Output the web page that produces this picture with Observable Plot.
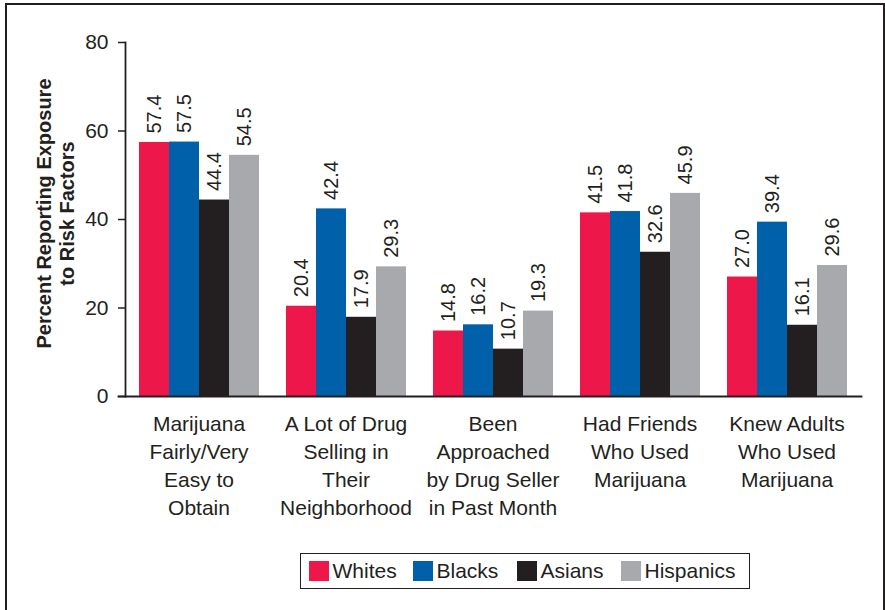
<!DOCTYPE html>
<html>
<head>
<meta charset="utf-8">
<script src="https://cdn.jsdelivr.net/npm/d3@7"></script>
<script src="https://cdn.jsdelivr.net/npm/@observablehq/plot@0.6"></script>
<style>
  html, body { margin: 0; padding: 0; background: #fff; }
  body { width: 885px; height: 610px; position: relative; overflow: hidden; font-family: "Liberation Sans", Arial, Helvetica, sans-serif; }
  #frame { position: absolute; left: 5px; top: 3px; width: 876px; height: 640px; border: 2px solid #231f20; border-bottom: none; }
  #chart { position: absolute; left: 0; top: 0; }
  #legend { position: absolute; left: 300px; top: 553px; width: 448px; height: 34px; border: 1.5px solid #231f20; display: flex; align-items: center; box-sizing: content-box; padding-left: 0; }
  .item { display: flex; align-items: center; width: 104px; font-size: 21px; color: #231f20; white-space: nowrap; }
  .item:first-child { margin-left: 7.5px; }
  .sw { width: 20px; height: 20px; margin-right: 4px; flex: none; }
</style>
</head>
<body>
<div id="frame"></div>
<div id="chart"></div>
<div id="legend"></div>
<script>
const categories = [
  "Marijuana\nFairly/Very\nEasy to\nObtain",
  "A Lot of Drug\nSelling in\nTheir\nNeighborhood",
  "Been\nApproached\nby Drug Seller\nin Past Month",
  "Had Friends\nWho Used\nMarijuana",
  "Knew Adults\nWho Used\nMarijuana"
];
const groups = ["Whites", "Blacks", "Asians", "Hispanics"];
const whites    = [57.4, 20.4, 14.8, 41.5, 27.0];
const blacks    = [57.5, 42.4, 16.2, 41.8, 39.4];
const asians    = [44.4, 17.9, 10.7, 32.6, 16.1];
const hispanics = [54.5, 29.3, 19.3, 45.9, 29.6];
const colors = ["#ED1849", "#0061AA", "#231F20", "#A7A9AC"];
const yTicks = [0, 20, 40, 60, 80];
const yTitle = "Percent Reporting Exposure\nto Risk Factors";

const series = [whites, blacks, asians, hispanics];
const data = [];
categories.forEach((c, i) => {
  groups.forEach((g, j) => data.push({category: c, group: g, value: series[j][i]}));
});

const ink = "#231f20";

const chart = Plot.plot({
  width: 885,
  height: 545,
  marginLeft: 137,
  marginRight: 36,
  marginTop: 42,
  marginBottom: 149,
  style: {fontFamily: '"Liberation Sans", Arial, Helvetica, sans-serif', background: "transparent", color: ink},
  fx: {domain: categories, paddingInner: 0.16, paddingOuter: 0},
  x: {domain: groups, padding: 0, axis: null},
  y: {domain: [0, 80], axis: null},
  color: {domain: groups, range: colors},
  marks: [
    Plot.barY(data, {fx: "category", x: "group", y: "value", fill: "group"}),
    Plot.text(data, {fx: "category", x: "group", y: "value", text: d => d.value.toFixed(1),
      rotate: -90, textAnchor: "start", dy: -9, fontSize: 20, fill: ink}),
    Plot.axisFx({anchor: "bottom", tickSize: 0, tickPadding: 15, fontSize: 21, lineHeight: 1.33, label: null, fill: ink}),
    Plot.axisY(yTicks, {anchor: "left", dx: -12, tickSize: 7, tickPadding: 10, fontSize: 21, label: null, stroke: ink, strokeWidth: 1.5, fill: ink}),
    Plot.frame({anchor: "left", facet: "super", insetLeft: -12, stroke: ink, strokeWidth: 1.8}),
    Plot.frame({anchor: "bottom", facet: "super", insetLeft: -19, insetRight: -13, stroke: ink, strokeWidth: 1.8}),
    Plot.text([yTitle], {facet: "super", frameAnchor: "left", rotate: -90, dx: -82, dy: -6,
      fontWeight: "bold", fontSize: 20, lineHeight: 1.15, textAnchor: "middle", fill: ink})
  ]
});
document.getElementById("chart").appendChild(chart);

const legend = document.getElementById("legend");
groups.forEach((g, i) => {
  const item = document.createElement("div");
  item.className = "item";
  const sw = document.createElement("div");
  sw.className = "sw";
  sw.style.background = colors[i];
  item.appendChild(sw);
  const t = document.createElement("span");
  t.textContent = g;
  item.appendChild(t);
  legend.appendChild(item);
});
</script>
</body>
</html>
